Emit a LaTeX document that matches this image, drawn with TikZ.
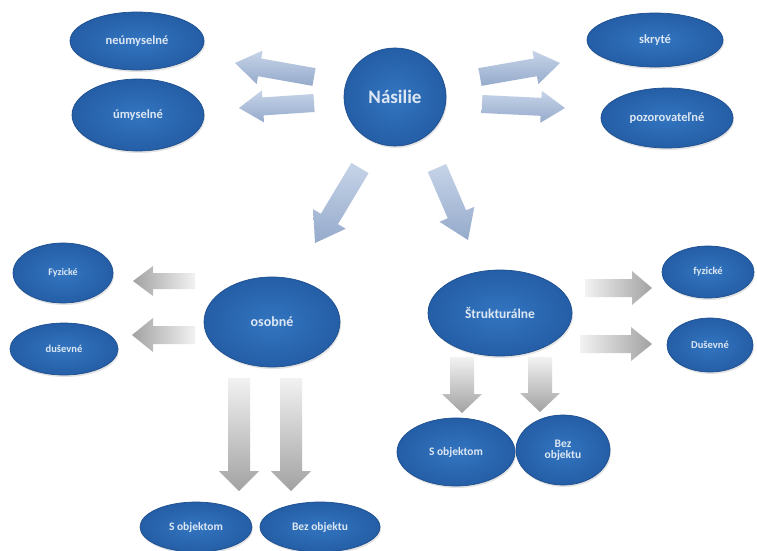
\documentclass[tikz,border=0pt]{standalone}
\usepackage{fontspec}
\setmainfont{Carlito}
\usetikzlibrary{shapes.geometric,calc,shadows}
\definecolor{bin}{HTML}{3375C0}
\definecolor{bout}{HTML}{245EA6}
\definecolor{bedge}{HTML}{1E4F8F}
\definecolor{btext}{HTML}{DDE7F3}
\definecolor{abL}{HTML}{C6D4E8}
\definecolor{abD}{HTML}{95AACB}
\definecolor{agL}{HTML}{F2F2F2}
\definecolor{agD}{HTML}{A2A2A2}
% #1 tail, #2 tip, #3 shaft half width, #4 head half width, #5 head length, #6 style
\newcommand\blockarr[6]{%
  \coordinate (bh) at ($(#2)!#5!(#1)$);
  \path[#6] ($(#1)!#3!90:(#2)$) -- ($(bh)!#3!90:(#2)$) -- ($(bh)!#4!90:(#2)$) -- (#2)
    -- ($(bh)!#4!-90:(#2)$) -- ($(bh)!#3!-90:(#2)$) -- ($(#1)!#3!-90:(#2)$) -- cycle;}
\tikzset{
  bub/.style={ellipse, inner sep=0pt, align=center, text=btext, draw=bedge, line width=0.7pt,
    inner color=bin, outer color=bout,
    drop shadow={opacity=0.22, shadow xshift=1pt, shadow yshift=-2pt}},
  fsz/.style={font=\bfseries\fontsize{#1}{#1}\selectfont},
  bluearr/.style={top color=abL, bottom color=abD},
  grayleft/.style={left color=agD, right color=agL},
  grayright/.style={left color=agL, right color=agD},
  graydown/.style={top color=agL, bottom color=agD},
}
\begin{document}
\begin{tikzpicture}[x=1pt,y=-1pt]
\useasboundingbox (0,0) rectangle (757,551);
\fill[white] (0,0) rectangle (757,551);

% nodes
\node[bub, fsz=12.5, minimum width=134pt, minimum height=58pt] (neum) at (137,41) {neúmyselné};
\node[bub, fsz=12.5, minimum width=132pt, minimum height=72pt] (umys) at (138,115) {úmyselné};
\node[bub, fsz=19, minimum width=102pt, minimum height=98pt] (nas) at (395,97) {Násilie};
\node[bub, fsz=12.5, minimum width=136pt, minimum height=54pt] (skr) at (655,40) {skryté};
\node[bub, fsz=12.5, minimum width=132pt, minimum height=60pt] (poz) at (667,118) {pozorovateľné};
\node[bub, fsz=10, minimum width=100pt, minimum height=60pt] (fyzL) at (63,273) {Fyzické};
\node[bub, fsz=10.5, minimum width=108pt, minimum height=52pt] (dusL) at (64,349) {duševné};
\node[bub, fsz=14, minimum width=136pt, minimum height=90pt] (oso) at (272,322) {osobné};
\node[bub, fsz=13.5, minimum width=144pt, minimum height=86pt] (str) at (500,313) {Štrukturálne};
\node[bub, fsz=10.5, minimum width=92pt, minimum height=52pt] (fyzR) at (708,272) {fyzické};
\node[bub, fsz=10.5, minimum width=86pt, minimum height=54pt] (dusR) at (710,345) {Duševné};
\node[bub, fsz=11.5, minimum width=118pt, minimum height=68pt] (soR) at (456,452) {S objektom};
\node[bub, fsz=11.5, minimum width=94pt, minimum height=70pt] (boR) at (563,450) {Bez\\objektu};
\node[bub, fsz=11.5, minimum width=112pt, minimum height=50pt] (soB) at (196,527) {S objektom};
\node[bub, fsz=11.5, minimum width=120pt, minimum height=50pt] (boB) at (320,527) {Bez objektu};

% arrow end points
\coordinate (t1) at (314,77);  \coordinate (h1) at (235,63);
\coordinate (t2) at (314,103); \coordinate (h2) at (239,108);
\coordinate (t3) at (480,77);  \coordinate (h3) at (560,63);
\coordinate (t4) at (482,104); \coordinate (h4) at (565,108);
\coordinate (t5) at (360,168); \coordinate (h5) at (315,243);
\coordinate (t6) at (437,168); \coordinate (h6) at (468,240);
\coordinate (t7) at (195,281); \coordinate (h7) at (133,281);
\coordinate (t8) at (195,335); \coordinate (h8) at (132,335);
\coordinate (t9) at (239,378); \coordinate (h9) at (239,491);
\coordinate (t10) at (291,378); \coordinate (h10) at (291,491);
\coordinate (t11) at (585,288); \coordinate (h11) at (652,288);
\coordinate (t12) at (580,344); \coordinate (h12) at (652,344);
\coordinate (t13) at (462,357); \coordinate (h13) at (462,413);
\coordinate (t14) at (540,357); \coordinate (h14) at (540,412);

\blockarr{t1}{h1}{9pt}{17pt}{25pt}{bluearr}
\blockarr{t2}{h2}{9pt}{16pt}{24pt}{bluearr}
\blockarr{t3}{h3}{9pt}{17pt}{25pt}{bluearr}
\blockarr{t4}{h4}{9pt}{16pt}{24pt}{bluearr}
\blockarr{t5}{h5}{10pt}{19pt}{28pt}{bluearr}
\blockarr{t6}{h6}{10pt}{19pt}{28pt}{bluearr}
\blockarr{t7}{h7}{8pt}{15pt}{20pt}{grayleft}
\blockarr{t8}{h8}{9pt}{17pt}{21pt}{grayleft}
\blockarr{t9}{h9}{11pt}{20pt}{20pt}{graydown}
\blockarr{t10}{h10}{11pt}{20pt}{20pt}{graydown}
\blockarr{t11}{h11}{9pt}{17pt}{20pt}{grayright}
\blockarr{t12}{h12}{9pt}{17pt}{21pt}{grayright}
\blockarr{t13}{h13}{12pt}{20pt}{19pt}{graydown}
\blockarr{t14}{h14}{12pt}{20pt}{19pt}{graydown}
\end{tikzpicture}
\end{document}
